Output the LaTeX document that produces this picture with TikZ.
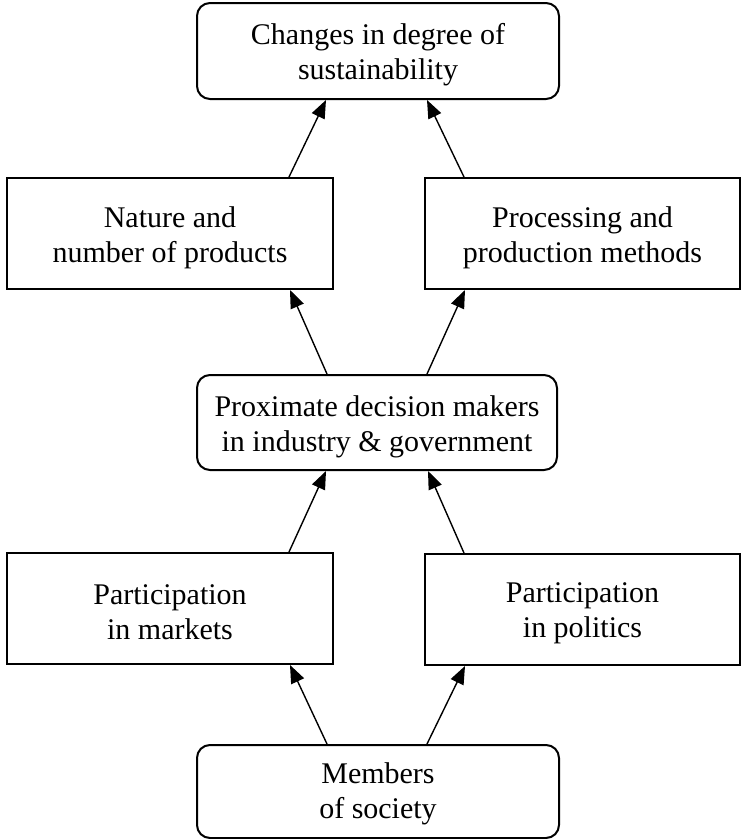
\documentclass[tikz,border=0pt]{standalone}
\usepackage{fontspec}
\setmainfont{Liberation Serif}
\usetikzlibrary{arrows.meta}
\begin{document}
\begin{tikzpicture}[x=1pt,y=-1pt,
  label text/.style={align=center, inner sep=0pt, font=\fontsize{30}{35}\selectfont},
  box/.style={draw, line width=2pt, inner sep=0pt},
  roundbox/.style={box, rounded corners=13pt},
  arr/.style={line width=1.4pt, -{Triangle[length=18pt,width=14pt]}}]
\useasboundingbox (0,0) rectangle (742,839);

% boxes
\node[roundbox, minimum width=362pt, minimum height=96pt]  (goal)   at (378,51)      {};
\node[box,      minimum width=326pt, minimum height=111pt] (nature) at (170,233.5)   {};
\node[box,      minimum width=315pt, minimum height=111pt] (ppm)    at (582.5,233.5) {};
\node[roundbox, minimum width=360pt, minimum height=95pt]  (prox)   at (377,422.5)   {};
\node[box,      minimum width=326pt, minimum height=111pt] (mkt)    at (170,608.5)   {};
\node[box,      minimum width=315pt, minimum height=111pt] (pol)    at (582.5,609.5) {};
\node[roundbox, minimum width=362pt, minimum height=93pt]  (soc)    at (378,791.5)   {};

% box texts, set a little below each box centre
\node[label text] (goaltext)   at ([yshift=-4pt]goal.center)   {Changes in degree of\\sustainability};
\node[label text] (naturetext) at ([yshift=-4pt]nature.center) {Nature and\\number of products};
\node[label text] (ppmtext)    at ([yshift=-4pt]ppm.center)    {Processing and\\production methods};
\node[label text] (proxtext)   at ([yshift=-4pt]prox.center)   {Proximate decision makers\\in industry \& government};
\node[label text] (mkttext)    at ([yshift=-4pt]mkt.center)    {Participation\\in markets};
\node[label text] (poltext)    at ([yshift=-4pt]pol.center)    {Participation\\in politics};
\node[label text] (soctext)    at ([yshift=-2pt]soc.center)    {Members\\of society};

% connectors
\draw[arr] ([xshift=-45pt]nature.north east) -- ([xshift=-52pt]goal.south);
\draw[arr] ([xshift=40pt]ppm.north west)     -- ([xshift=49pt]goal.south);
\draw[arr] ([xshift=-50pt]prox.north)        -- ([xshift=-44pt]nature.south east);
\draw[arr] ([xshift=50pt]prox.north)         -- ([xshift=41pt]ppm.south west);
\draw[arr] ([xshift=-45pt]mkt.north east)    -- ([xshift=-51pt]prox.south);
\draw[arr] ([xshift=40pt]pol.north west)     -- ([xshift=51pt]prox.south);
\draw[arr] ([xshift=-51pt]soc.north)         -- ([xshift=-44pt]mkt.south east);
\draw[arr] ([xshift=49pt]soc.north)          -- ([xshift=41pt]pol.south west);
\end{tikzpicture}
\end{document}
